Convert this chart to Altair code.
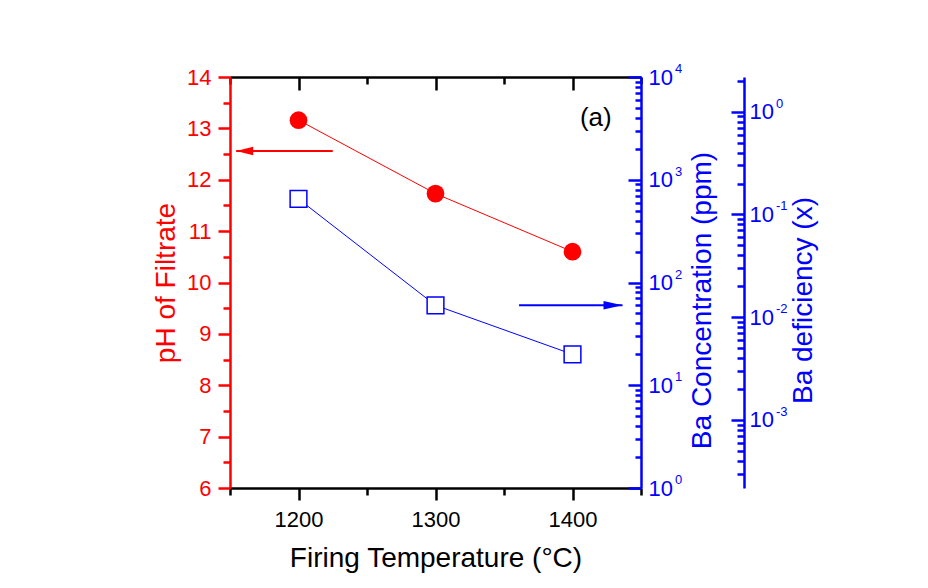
import altair as alt
import pandas as pd

# ---- data ----
temps = [1200, 1300, 1400]            # Firing temperature (°C)
ph_values = [13.16, 11.73, 10.60]     # pH of filtrate
ba_conc_ppm = [650, 60, 20]           # Ba concentration (ppm)

# axis ranges and ticks
x_domain = [1150, 1450]
x_major = [1200, 1300, 1400]
x_minor = [1150, 1250, 1350, 1450]
ph_domain = [6, 14]
ph_major = [6, 7, 8, 9, 10, 11, 12, 13, 14]
ph_minor = [6.5, 7.5, 8.5, 9.5, 10.5, 11.5, 12.5, 13.5]
conc_domain = [1, 10000]
conc_major = [1, 10, 100, 1000, 10000]
conc_minor = [k * 10 ** n for n in range(0, 4) for k in range(2, 10)]
conc_exponents = ["0", "1", "2", "3", "4"]
conc_per_unit_deficiency = 4592.0     # 10^0 deficiency sits at ~4.6e3 ppm
def_domain = [conc_domain[0] / conc_per_unit_deficiency, conc_domain[1] / conc_per_unit_deficiency]
def_major = [1, 0.1, 0.01, 0.001]
def_minor = [k * 10.0 ** n for n in range(-4, 1) for k in range(2, 10)
             if def_domain[0] <= k * 10.0 ** n <= def_domain[1]]
def_exponents = ["0", "-1", "-2", "-3"]

# annotations (data units)
red_arrow = {"x_start": [1225.0], "x_tip": [1154.5], "y": [12.56]}
blue_arrow = {"x_start": [1361.0], "x_tip": [1436.5], "y": [60.0]}
panel_label = {"x": [1417.0], "y": [13.2], "text": ["(a)"]}

# ---- styling ----
W, H = 411, 411
FONT = "Liberation Sans"
RED = "#ff0000"
BLUE = "#0000ff"
DEF_OFFSET = 103
LABEL_SIZE = 22
EXP_SIZE = 13
TITLE_SIZE = 28
RIGHT_TITLE_Y = 223

df = pd.DataFrame({"T": temps, "pH": ph_values, "Ba": ba_conc_ppm})
df_red_arrow = pd.DataFrame(red_arrow)
df_blue_arrow = pd.DataFrame(blue_arrow)
df_label = pd.DataFrame(panel_label)
df_conc_exp = pd.DataFrame({"v": conc_major, "e": conc_exponents, "xe": [x_domain[1]] * len(conc_major)})
df_def_exp = pd.DataFrame({"v": def_major, "e": def_exponents, "xe": [x_domain[1]] * len(def_major)})

xs = alt.Scale(domain=x_domain, nice=False, zero=False)
ph_scale = alt.Scale(domain=ph_domain, nice=False, zero=False)
conc_scale = alt.Scale(type="log", domain=conc_domain, nice=False)
def_scale = alt.Scale(type="log", domain=def_domain, nice=False)


def tick_axis(orient, values, size, color, offset=0, domain=False, domain_color="black"):
    return alt.Axis(orient=orient, values=values, tickSize=size, tickWidth=2.5,
                    tickColor=color, labels=False, domain=domain,
                    domainColor=domain_color, domainWidth=2.5, offset=offset,
                    title=None, grid=False)


bottom_major = alt.Axis(orient="bottom", values=x_major, tickSize=12, tickWidth=2.5,
                        tickColor="black", domainColor="black", domainWidth=2.5,
                        labelFont=FONT, labelFontSize=LABEL_SIZE, labelColor="black",
                        labelPadding=9, format="d", grid=False,
                        title="Firing Temperature (°C)", titleFont=FONT,
                        titleFontSize=TITLE_SIZE, titleFontWeight="normal",
                        titleColor="black", titlePadding=14)
left_major = alt.Axis(orient="left", values=ph_major, tickSize=12, tickWidth=2.5,
                      tickColor=RED, domainColor=RED, domainWidth=2.5,
                      labelFont=FONT, labelFontSize=LABEL_SIZE, labelColor=RED,
                      labelPadding=7, grid=False,
                      title="pH of Filtrate", titleFont=FONT, titleFontSize=TITLE_SIZE,
                      titleFontWeight="normal", titleColor=RED, titlePadding=6)
conc_label_axis = alt.Axis(orient="right", values=conc_major, ticks=False,
                           domainColor=BLUE, domainWidth=2.5,
                           labelFont=FONT, labelFontSize=LABEL_SIZE, labelColor=BLUE,
                           labelPadding=7, grid=False, labelExpr="'10'",
                           title="Ba Concentration (ppm)", titleFont=FONT,
                           titleFontSize=TITLE_SIZE, titleFontWeight="normal",
                           titleColor=BLUE, titlePadding=16, titleAngle=270,
                           titleBaseline="top", titleY=RIGHT_TITLE_Y)
def_label_axis = alt.Axis(orient="right", offset=DEF_OFFSET, values=def_major, ticks=False,
                          domainColor=BLUE, domainWidth=2.5,
                          labelFont=FONT, labelFontSize=LABEL_SIZE, labelColor=BLUE,
                          labelPadding=5, grid=False, labelExpr="'10'",
                          title="Ba deficiency (x)", titleFont=FONT,
                          titleFontSize=TITLE_SIZE, titleFontWeight="normal",
                          titleColor=BLUE, titlePadding=16, titleAngle=270,
                          titleBaseline="top", titleY=RIGHT_TITLE_Y)

layers = []


def ghost(xaxis, yfield, yscale, yaxis):
    return alt.Chart(df).mark_point(opacity=0).encode(
        x=alt.X("T:Q", scale=xs, axis=xaxis),
        y=alt.Y(yfield, scale=yscale, axis=yaxis),
    )


layers.append(ghost(tick_axis("bottom", x_minor, 7, "black"), "pH:Q", ph_scale,
                    tick_axis("left", ph_minor, 7, RED)))
layers.append(ghost(tick_axis("bottom", x_major, 13, "black", offset=-H, domain=True),
                    "Ba:Q", conc_scale, tick_axis("left", conc_major, 13, BLUE, offset=-W)))
layers.append(ghost(tick_axis("bottom", x_minor, 7, "black", offset=-H),
                    "Ba:Q", conc_scale, tick_axis("left", conc_minor, 6, BLUE, offset=-W)))

# deficiency axes (same mapping as concentration, scaled)
df_def = pd.DataFrame({"T": temps, "d": [v / conc_per_unit_deficiency for v in ba_conc_ppm]})


def def_ghost(yaxis):
    return alt.Chart(df_def).mark_point(opacity=0).encode(
        x=alt.X("T:Q", scale=xs, axis=None),
        y=alt.Y("d:Q", scale=def_scale, axis=yaxis),
    )


layers.append(def_ghost(def_label_axis))
layers.append(def_ghost(tick_axis("left", def_major, 13, BLUE, offset=-(W + DEF_OFFSET))))
layers.append(def_ghost(tick_axis("left", def_minor, 7, BLUE, offset=-(W + DEF_OFFSET))))

# superscript exponents of the log-axis labels
layers.append(alt.Chart(df_conc_exp).mark_text(font=FONT, fontSize=EXP_SIZE, color=BLUE,
                                               align="left", baseline="middle",
                                               dx=34, dy=-8).encode(
    x=alt.X("xe:Q", scale=xs, axis=None),
    y=alt.Y("v:Q", scale=conc_scale, axis=None),
    text="e:N",
))
layers.append(alt.Chart(df_def_exp).mark_text(font=FONT, fontSize=EXP_SIZE, color=BLUE,
                                              align="left", baseline="middle",
                                              dx=DEF_OFFSET + 32, dy=-8).encode(
    x=alt.X("xe:Q", scale=xs, axis=None),
    y=alt.Y("v:Q", scale=def_scale, axis=None),
    text="e:N",
))

# red series
layers.append(alt.Chart(df).mark_line(color=RED, strokeWidth=1).encode(
    x=alt.X("T:Q", scale=xs, axis=bottom_major),
    y=alt.Y("pH:Q", scale=ph_scale, axis=left_major),
))
layers.append(alt.Chart(df).mark_circle(color=RED, size=314, opacity=1).encode(
    x=alt.X("T:Q", scale=xs, axis=None),
    y=alt.Y("pH:Q", scale=ph_scale, axis=None),
))

# blue series
layers.append(alt.Chart(df).mark_line(color=BLUE, strokeWidth=1).encode(
    x=alt.X("T:Q", scale=xs, axis=None),
    y=alt.Y("Ba:Q", scale=conc_scale, axis=conc_label_axis),
))
layers.append(alt.Chart(df).mark_point(shape="square", size=280, fill="white",
                                       stroke=BLUE, strokeWidth=1.5, opacity=1).encode(
    x=alt.X("T:Q", scale=xs, axis=None),
    y=alt.Y("Ba:Q", scale=conc_scale, axis=None),
))

# arrows
layers.append(alt.Chart(df_red_arrow).mark_rule(color=RED, strokeWidth=2).encode(
    x=alt.X("x_start:Q", scale=xs, axis=None), x2="x_tip:Q",
    y=alt.Y("y:Q", scale=ph_scale, axis=None),
))
layers.append(alt.Chart(df_red_arrow).mark_point(shape="M0,0L2,-0.5L2,0.5Z", size=289,
                                                 filled=True, color=RED, opacity=1,
                                                 strokeWidth=0).encode(
    x=alt.X("x_tip:Q", scale=xs, axis=None),
    y=alt.Y("y:Q", scale=ph_scale, axis=None),
))
layers.append(alt.Chart(df_blue_arrow).mark_rule(color=BLUE, strokeWidth=2).encode(
    x=alt.X("x_start:Q", scale=xs, axis=None), x2="x_tip:Q",
    y=alt.Y("y:Q", scale=conc_scale, axis=None),
))
layers.append(alt.Chart(df_blue_arrow).mark_point(shape="M0,0L-2,-0.45L-2,0.45Z", size=361,
                                                  filled=True, color=BLUE, opacity=1,
                                                  strokeWidth=0).encode(
    x=alt.X("x_tip:Q", scale=xs, axis=None),
    y=alt.Y("y:Q", scale=conc_scale, axis=None),
))

# panel label
layers.append(alt.Chart(df_label).mark_text(font=FONT, fontSize=26, color="black",
                                            align="center", baseline="middle").encode(
    x=alt.X("x:Q", scale=xs, axis=None),
    y=alt.Y("y:Q", scale=ph_scale, axis=None),
    text="text:N",
))

chart = alt.layer(*layers).resolve_scale(x="independent", y="independent").properties(
    width=W, height=H,
    autosize=alt.AutoSizeParams(type="none"),
    padding={"left": 222, "top": 69, "right": 279, "bottom": 92},
    background="white",
).configure_view(stroke=None)

chart.save("out.html", embed_options={"renderer": "svg", "actions": False})
